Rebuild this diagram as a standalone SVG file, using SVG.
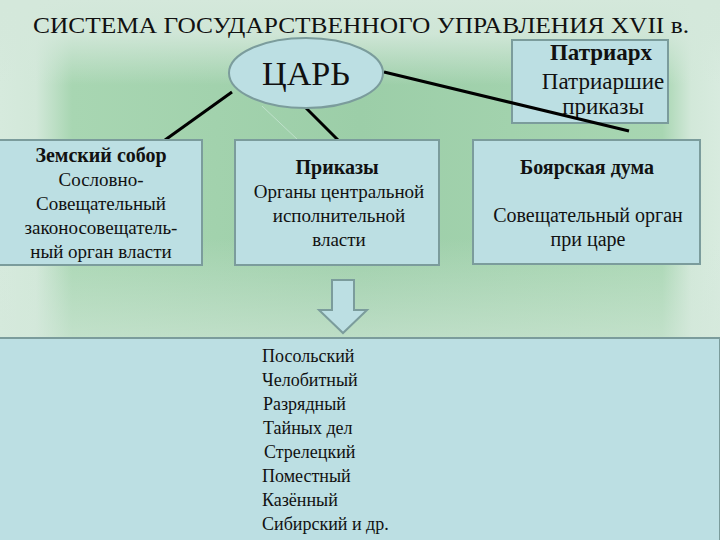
<svg xmlns="http://www.w3.org/2000/svg" width="720" height="540" viewBox="0 0 720 540">
  <defs>
    <linearGradient id="bgH" x1="0" y1="0" x2="1" y2="0">
      <stop offset="0" stop-color="#d6eadd"/>
      <stop offset="0.05" stop-color="#d2e8d9"/>
      <stop offset="0.1" stop-color="#a8d6b2"/>
      <stop offset="0.5" stop-color="#9ccea8"/>
      <stop offset="0.92" stop-color="#a8d6b2"/>
      <stop offset="0.96" stop-color="#d2e8d9"/>
      <stop offset="1" stop-color="#d8ebdf"/>
    </linearGradient>
    <linearGradient id="bgV" x1="0" y1="0" x2="0" y2="1">
      <stop offset="0" stop-color="#d4e8db" stop-opacity="1"/>
      <stop offset="0.1" stop-color="#d4e8db" stop-opacity="0.9"/>
      <stop offset="0.25" stop-color="#d4e8db" stop-opacity="0"/>
      <stop offset="0.7" stop-color="#d4e8db" stop-opacity="0"/>
      <stop offset="1" stop-color="#d4e8db" stop-opacity="0.6"/>
    </linearGradient>
    <style>
      .box { fill: #bcdfe3; stroke: #7b9c9c; stroke-width: 2; }
      text { font-family: 'Liberation Serif', 'Times New Roman', serif; fill: #111; }
      .c { text-anchor: middle; font-size: 19px; }
      .b { font-weight: bold; font-size: 20px; }
      .l { font-size: 18px; }
      .p { text-anchor: middle; font-size: 23px; }
      .link { stroke: #000; stroke-width: 3; fill: none; }
    </style>
  </defs>

  <rect x="0" y="0" width="720" height="540" fill="url(#bgH)"/>
  <rect x="0" y="0" width="720" height="340" fill="url(#bgV)"/>

  <text x="361" y="33" text-anchor="middle" font-size="24" textLength="656" lengthAdjust="spacingAndGlyphs">СИСТЕМА ГОСУДАРСТВЕННОГО УПРАВЛЕНИЯ XVII в.</text>

  <g id="patriarch">
    <rect class="box" x="512" y="40" width="156" height="83"/>
    <text class="p" x="601" y="60" font-weight="bold">Патриарх</text>
    <text class="p" x="603" y="89">Патриаршие</text>
    <text class="p" x="603" y="114">приказы</text>
  </g>

  <g id="connectors">
    <line class="link" x1="232" y1="92" x2="165" y2="140"/>
    <line class="link" x1="303" y1="105" x2="338" y2="140"/>
    <line class="link" x1="384" y1="72" x2="629" y2="131"/>
    <line x1="262" y1="106" x2="298" y2="140" stroke="#c8e6d4" stroke-width="1" opacity="0.8"/>
  </g>

  <g id="tsar">
    <ellipse cx="306" cy="73" rx="77" ry="35" fill="#bcdfe3" stroke="#7b9c9c" stroke-width="2"/>
    <text x="306" y="85" text-anchor="middle" font-size="33" textLength="88" lengthAdjust="spacingAndGlyphs">ЦАРЬ</text>
  </g>

  <g id="zemsky">
    <rect class="box" x="-1" y="140" width="203" height="125"/>
    <text class="c b" x="101" y="162">Земский собор</text>
    <text class="c" x="101" y="186">Сословно-</text>
    <text class="c" x="101" y="210">Совещательный</text>
    <text class="c" x="101" y="234">законосовещатель-</text>
    <text class="c" x="101" y="258">ный орган власти</text>
  </g>

  <g id="prikazy">
    <rect class="box" x="235" y="140" width="204" height="125"/>
    <text class="c b" x="337" y="174">Приказы</text>
    <text class="c" x="339" y="198">Органы центральной</text>
    <text class="c" x="339" y="222">исполнительной</text>
    <text class="c" x="339" y="246">власти</text>
  </g>

  <g id="duma">
    <rect class="box" x="473" y="140" width="227" height="124"/>
    <text class="c b" x="587" y="174">Боярская дума</text>
    <text class="c" x="588" y="222" style="font-size:20px">Совещательный орган</text>
    <text class="c" x="588" y="246" style="font-size:20px">при царе</text>
  </g>

  <g id="arrow">
    <polygon points="332,280 354,280 354,310 367,310 343,333 319,310 332,310" fill="#bcdfe3" stroke="#7b9c9c" stroke-width="2"/>
  </g>

  <g id="list">
    <rect class="box" x="-1" y="338" width="721" height="203"/>
    <text class="l" x="262" y="362">Посольский</text>
    <text class="l" x="262" y="386">Челобитный</text>
    <text class="l" x="263" y="410">Разрядный</text>
    <text class="l" x="263" y="434">Тайных дел</text>
    <text class="l" x="264" y="458">Стрелецкий</text>
    <text class="l" x="262" y="482">Поместный</text>
    <text class="l" x="262" y="506">Казённый</text>
    <text class="l" x="262" y="530">Сибирский и др.</text>
  </g>
</svg>
